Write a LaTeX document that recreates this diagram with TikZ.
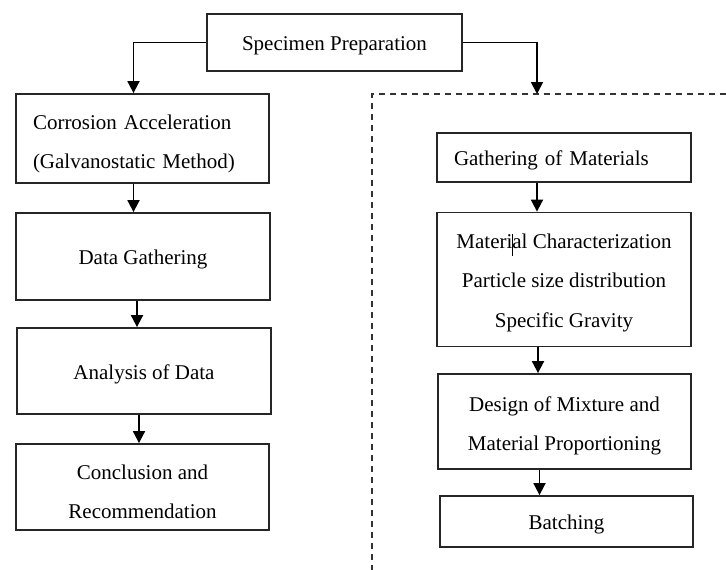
\documentclass[tikz,border=0pt]{standalone}
\usepackage{fontspec}
\setmainfont{Liberation Serif}
\usetikzlibrary{arrows.meta}
\begin{document}
\begin{tikzpicture}[x=1pt,y=-1pt,
  box/.style={draw=black!85,line width=1.8pt,inner sep=0pt},
  txt/.style={inner sep=0pt,font=\fontsize{21pt}{39.5pt}\selectfont,align=center},
  arr/.style={line width=1.8pt,-{Triangle[length=12pt,width=12pt]}},
  dashline/.style={line width=1.6pt,draw=black!80,dash pattern=on 6pt off 5pt}]
\useasboundingbox (0,0) rectangle (726,570);
% left column
\node[box,minimum width=255pt,minimum height=57pt] (spec) at (334.5,42.5) {};
\node[txt] (specT) at ([yshift=-3pt]spec.center) {Specimen Preparation};
\node[box,minimum width=253pt,minimum height=89pt] (corr) at (142.5,138.5) {};
\node[txt,text width=219pt,align=left] (corrT) at ([yshift=-5.5pt]corr.center) {Corrosion Acceleration\\(Galvanostatic Method)};
\node[box,minimum width=254pt,minimum height=87pt] (data) at (143,256.5) {};
\node[txt] (dataT) at ([yshift=-3pt]data.center) {Data Gathering};
\node[box,minimum width=254pt,minimum height=86pt] (anal) at (144,371) {};
\node[txt] (analT) at ([yshift=-3pt]anal.center) {Analysis of Data};
\node[box,minimum width=253pt,minimum height=86pt] (concl) at (142.5,487) {};
\node[txt] (conclT) at ([yshift=-5pt]concl.center) {Conclusion and\\Recommendation};
% right column
\coordinate (dtop) at (537,94);
\coordinate (dleft) at (372,94);
\coordinate (dright) at (726,94);
\coordinate (dbot) at (372,570);
\draw[dashline] (dright) -- (dleft) -- (dbot);
\node[box,minimum width=254pt,minimum height=49pt] (gath) at (564,157.5) {};
\node[txt,text width=220pt,align=left] (gathT) at ([yshift=-3pt]gath.center) {Gathering of Materials};
\node[box,minimum width=254pt,minimum height=134pt] (matc) at (564,279.5) {};
\node[txt] (matcT) at ([yshift=-3pt]matc.center) {Material Characterization\\Particle size distribution\\Specific Gravity};
\node[box,minimum width=253pt,minimum height=95pt] (design) at (564.5,421.5) {};
\node[txt] (designT) at ([yshift=-4.5pt]design.center) {Design of Mixture and\\Material Proportioning};
\node[box,minimum width=253pt,minimum height=51pt] (batch) at (566.5,521.5) {};
\node[txt] (batchT) at ([yshift=-3pt]batch.center) {Batching};
\coordinate (curA) at (512,234);
\coordinate (curB) at (512,256);
\draw[line width=0.8pt] (curA) -- (curB);
% connectors
\draw[arr] (spec.west) -| ([xshift=-9pt]corr.north);
\draw[arr] (spec.east) -| (dtop);
\draw[arr] ([xshift=-9pt]corr.south) -- ([xshift=-9pt]corr.south |- data.north);
\draw[arr] ([xshift=-6pt]data.south) -- ([xshift=-6pt]data.south |- anal.north);
\draw[arr] ([xshift=-5pt]anal.south) -- ([xshift=-5pt]anal.south |- concl.north);
\draw[arr] ([xshift=-27pt]gath.south) -- ([xshift=-27pt]gath.south |- matc.north);
\draw[arr] ([xshift=-26pt]matc.south) -- ([xshift=-26pt]matc.south |- design.north);
\draw[arr] ([xshift=-25pt]design.south) -- ([xshift=-25pt]design.south |- batch.north);
\end{tikzpicture}
\end{document}
